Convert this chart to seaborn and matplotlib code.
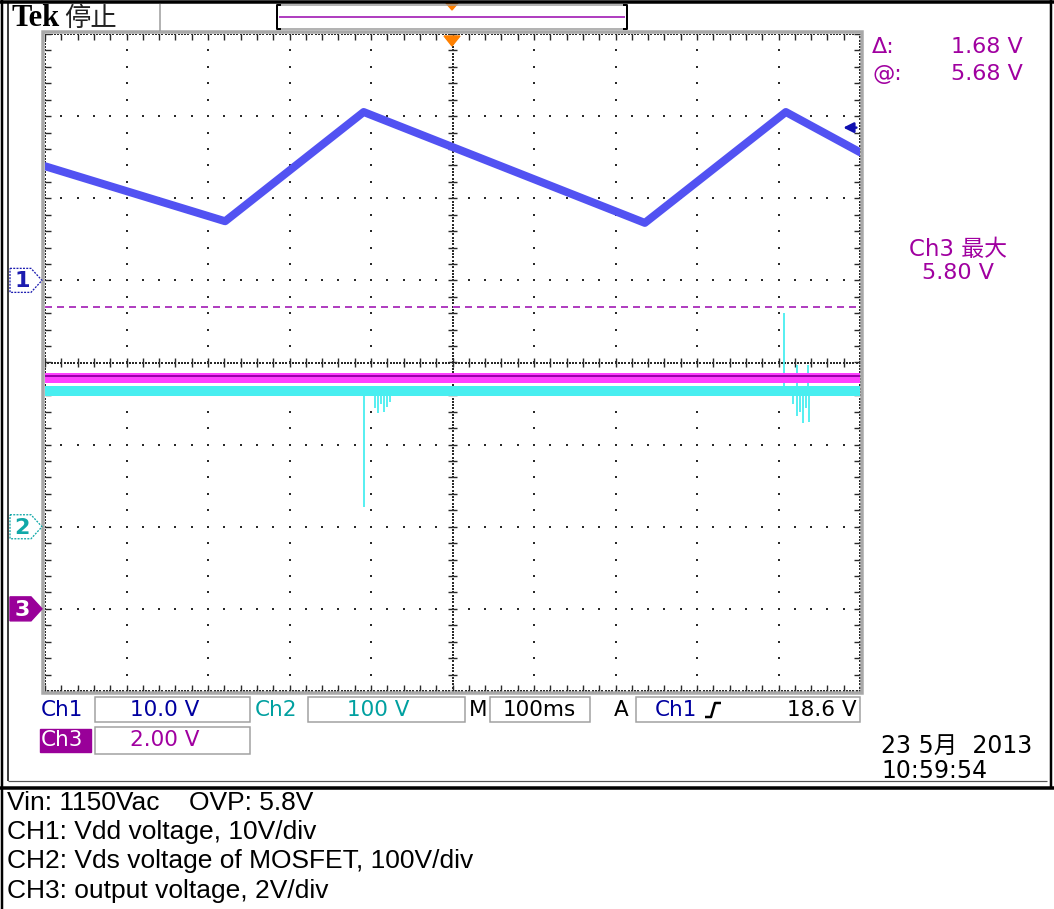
import numpy as np
import matplotlib
matplotlib.use("Agg")
import matplotlib.pyplot as plt
import seaborn as sns
from matplotlib.patches import Polygon, Rectangle

sns.set_theme(style="white")
plt.rcParams['font.family'] = ['DejaVu Sans', 'Noto Sans CJK SC']

# ---- acquisition settings ----
time_per_div_ms = 100
ch1_volts_per_div = 10.0
ch2_volts_per_div = 100.0
ch3_volts_per_div = 2.0
ch1_ground_div = 1
ch2_ground_div = -2
ch3_ground_div = -3

# ---- CH1: Vdd waveform breakpoints ----
ch1_time_ms = [-500, -279, -109, 236, 409, 500]
ch1_volts = [13.9, 7.2, 20.5, 7.0, 20.5, 15.6]

# ---- CH2: Vds baseline and switching spikes ----
ch2_time_ms = [-500, 500]
ch2_volts = [165, 165]
ch2_spike_time_ms = [-108.6, -95, -91, -88, -84, -80, -77,
                     407, 418, 423, 426, 430, 434, 437, 423, 436]
ch2_spike_volts = [24, 145, 138, 150, 140, 146, 152,
                   260, 150, 135, 140, 126, 145, 128, 197, 197]

# ---- CH3: output voltage ----
ch3_time_ms = [-500, 500]
ch3_volts = [5.62, 5.62]

# ---- measurements / readouts ----
cursor_at = 5.68
cursor_delta = 1.68
ch3_max = 5.80
trigger_level = 18.6
readout_scales = ["10.0 V", "100 V", "2.00 V"]
timebase_label = "100ms"
date_label = "23 5月  2013"
time_label = "10:59:54"
notes = ["Vin: 1150Vac    OVP: 5.8V",
         "CH1: Vdd voltage, 10V/div",
         "CH2: Vds voltage of MOSFET, 100V/div",
         "CH3: output voltage, 2V/div"]

C_CH1 = "#5252F2"
C_CH1_TXT = "#0000A0"
C_CH2 = "#48EEF0"
C_CH2_TXT = "#00A0A0"
C_CH3 = "#FF40FF"
C_CH3_TXT = "#A000A0"
C_ORANGE = "#FF8000"

W, H = 1054, 909
fig = plt.figure(figsize=(W / 100, H / 100), dpi=100)
fig.patch.set_facecolor("white")

PX = 0.72  # points per pixel at 100 dpi


def px_axes(zorder):
    a = fig.add_axes([0, 0, 1, 1], zorder=zorder)
    a.set_xlim(0, W)
    a.set_ylim(H, 0)
    a.axis("off")
    a.patch.set_alpha(0)
    return a


bg = px_axes(0)

# screen area in pixels
L, R, T, B = 45, 860, 34, 691
rect = [L / W, (H - B) / H, (R - L) / W, (B - T) / H]

scope = fig.add_axes(rect, zorder=1)
scope.set_xlim(-5, 5)
scope.set_ylim(-4, 4)
scope.axis("off")
scope.patch.set_alpha(0)

# ---- graticule ----
dot = dict(ls="none", marker="s", ms=1.5, mew=0, color="#2a2a2a")
fine_y = np.arange(-4, 4.001, 0.2)
fine_x = np.arange(-5, 5.001, 0.2)
for xv in [-4, -3, -2, -1, 1, 2, 3, 4]:
    scope.plot(np.full_like(fine_y, xv), fine_y, **dot)
for yv in [-3, -2, -1, 1, 2, 3]:
    scope.plot(fine_x, np.full_like(fine_x, yv), **dot)
dense_y = np.arange(-4, 4.001, 0.04)
dense_x = np.arange(-5, 5.001, 0.04)
for xv in [-5, 0, 5]:
    scope.plot(np.full_like(dense_y, xv), dense_y, **dot)
for yv in [-4, 0, 4]:
    scope.plot(dense_x, np.full_like(dense_x, yv), **dot)
tick_kw = dict(color="#2a2a2a", lw=1.4 * PX)
scope.hlines(fine_y, -0.05, 0.05, **tick_kw)
scope.vlines(fine_x, -0.05, 0.05, **tick_kw)
scope.hlines(fine_y, -5, -4.93, **tick_kw)
scope.hlines(fine_y, 4.93, 5, **tick_kw)
scope.vlines(fine_x, 3.93, 4, **tick_kw)
scope.vlines(fine_x, -4, -3.93, **tick_kw)


def channel_axes(vpd, gnd, z):
    a = fig.add_axes(rect, zorder=z)
    a.set_xlim(-5 * time_per_div_ms, 5 * time_per_div_ms)
    a.set_ylim((-4 - gnd) * vpd, (4 - gnd) * vpd)
    a.axis("off")
    a.patch.set_alpha(0)
    return a


ax2 = channel_axes(ch2_volts_per_div, ch2_ground_div, 2)
ax3 = channel_axes(ch3_volts_per_div, ch3_ground_div, 3)
ax1 = channel_axes(ch1_volts_per_div, ch1_ground_div, 4)

# CH2 trace
sns.lineplot(x=ch2_time_ms, y=ch2_volts, ax=ax2, color=C_CH2, lw=10 * PX,
             estimator=None, legend=False)
ax2.vlines(ch2_spike_time_ms, ch2_volts[0], ch2_spike_volts, color=C_CH2,
           lw=1.8 * PX)

# CH3 trace and cursors
sns.lineplot(x=ch3_time_ms, y=ch3_volts, ax=ax3, color=C_CH3, lw=10 * PX,
             estimator=None, legend=False)
ax3.axhline(cursor_at, color="#9A00A8", lw=2 * PX)
ax3.axhline(cursor_at + cursor_delta, color="#B040C0", lw=2 * PX,
            ls=(0, (3.5, 2.5)))

# CH1 trace
sns.lineplot(x=ch1_time_ms, y=ch1_volts, ax=ax1, color=C_CH1, lw=8 * PX,
             estimator=None, legend=False)
ax1.annotate("", xy=(0.976, trigger_level), xycoords=("axes fraction", "data"),
             xytext=(0.999, trigger_level), textcoords=("axes fraction", "data"),
             arrowprops=dict(arrowstyle="-|>", color="#1010B0", lw=2.5 * PX,
                             mutation_scale=15), annotation_clip=False)

fg = px_axes(10)

# ---- frame lines ----
def seg(a, xs, ys, c="black", lw=1.0, **kw):
    a.plot(xs, ys, color=c, lw=lw * PX, solid_capstyle="butt", **kw)


seg(fg, [2, 2], [0, H], lw=2.5)
seg(fg, [8, 8], [2, 781], lw=1.5)
seg(fg, [8, 1047], [781, 781], lw=1.2, c="#555555")
seg(fg, [0, W], [2, 2], lw=3.5)
seg(fg, [1051, 1051], [0, 788], lw=2.5)
seg(fg, [0, W], [787.5, 787.5], lw=3.5)

# screen border
fg.add_patch(Rectangle((L - 2, T - 2), R - L + 4, B - T + 4, fill=False,
                       ec="#A8A8A8", lw=3.5 * PX))

# top bar
seg(fg, [160, 160], [4, T - 3], c="#9a9a9a", lw=1.5)
seg(fg, [277, 627], [5, 5], c="#9a9a9a", lw=1.5)
seg(fg, [277, 627], [29, 29], c="#9a9a9a", lw=1.5)
seg(fg, [281, 277, 277, 281], [5, 5, 29, 29], lw=2)
seg(fg, [623, 627, 627, 623], [5, 5, 29, 29], lw=2)
seg(fg, [279, 625], [17, 17], c="#B040C0", lw=2)
fg.add_patch(Polygon([[446, 3], [458, 3], [452, 10]], color=C_ORANGE))
fg.add_patch(Polygon([[444, 36], [460, 36], [452, 46]], color=C_ORANGE))

fg.text(11, 18, "Tek", family="Liberation Serif", weight="bold", fontsize=22,
        va="center", ha="left", color="black")
fg.text(64, 18, "停止", family=["Noto Sans CJK SC"], fontsize=19,
        va="center", ha="left", color="#222222")

# ---- channel ground markers ----
def gnd_marker(y, label, color, filled):
    pts = [[10, y - 12], [31, y - 12], [42, y], [31, y + 12], [10, y + 12]]
    if filled:
        fg.add_patch(Polygon(pts, closed=True, fc=color, ec=color, lw=1))
        tc = "white"
    else:
        fg.add_patch(Polygon(pts, closed=True, fc="white", ec=color,
                             lw=1.3 * PX, ls=(0, (1.5, 1.0))))
        tc = color
    fg.text(22, y + 1, label, fontsize=16, weight="bold", color=tc,
            ha="center", va="center")


def ground_px(gnd):
    return (T + B) / 2 - gnd * (B - T) / 8


gnd_marker(ground_px(ch1_ground_div), "1", "#1c1cb0", False)
gnd_marker(ground_px(ch2_ground_div), "2", "#10A8A8", False)
gnd_marker(ground_px(ch3_ground_div), "3", "#990099", True)

# ---- readouts ----
fs = 15.5
fw = "normal"
def box(x0, y0, x1, y1):
    fg.add_patch(Rectangle((x0, y0), x1 - x0, y1 - y0, fill=False,
                           ec="#a0a0a0", lw=1.5 * PX))


box(95, 697, 250, 722)
box(308, 697, 465, 722)
box(490, 697, 590, 722)
box(636, 697, 860, 722)
box(95, 727, 250, 754)
fg.add_patch(Rectangle((40, 729), 51, 23, color="#990099"))

fg.text(41, 710, "Ch1", fontsize=fs, weight=fw, color=C_CH1_TXT, va="center")
fg.text(165, 710, readout_scales[0], fontsize=fs, weight=fw, color=C_CH1_TXT,
        va="center", ha="center")
fg.text(255, 710, "Ch2", fontsize=fs, weight=fw, color=C_CH2_TXT, va="center")
fg.text(378, 710, readout_scales[1], fontsize=fs, weight=fw, color=C_CH2_TXT,
        va="center", ha="center")
fg.text(469, 710, "M", fontsize=fs, weight=fw, color="black", va="center")
fg.text(539, 710, timebase_label, fontsize=fs, weight=fw, color="black",
        va="center", ha="center")
fg.text(614, 710, "A", fontsize=fs, weight=fw, color="black", va="center")
fg.text(655, 710, "Ch1", fontsize=fs, weight=fw, color=C_CH1_TXT, va="center")
seg(fg, [705, 711, 715, 721], [717, 717, 703, 703], lw=2.5)
fg.text(857, 710, f"{trigger_level:.1f} V", fontsize=fs, weight=fw,
        color="black", va="center", ha="right")
fg.text(41, 740, "Ch3", fontsize=fs, weight=fw, color="white", va="center")
fg.text(165, 740, readout_scales[2], fontsize=fs, weight=fw, color=C_CH3_TXT,
        va="center", ha="center")

# measurement panel
fg.text(872, 47, "Δ:", fontsize=fs + 0.5, weight=fw, color=C_CH3_TXT,
        va="center")
fg.text(1023, 47, f"{cursor_delta:.2f} V", fontsize=fs + 0.5, weight=fw,
        color=C_CH3_TXT, va="center", ha="right")
fg.text(872, 74, "@:", fontsize=fs + 0.5, weight=fw, color=C_CH3_TXT,
        va="center")
fg.text(1023, 74, f"{cursor_at:.2f} V", fontsize=fs + 0.5, weight=fw,
        color=C_CH3_TXT, va="center", ha="right")
fg.text(958, 250, "Ch3 最大", fontsize=fs + 1, weight=fw, color=C_CH3_TXT,
        va="center", ha="center")
fg.text(958, 273, f"{ch3_max:.2f} V", fontsize=fs + 0.5, weight=fw,
        color=C_CH3_TXT, va="center", ha="center")

fg.text(881, 746, date_label, fontsize=17, weight=fw, color="black",
        va="center")
fg.text(881, 771, time_label, fontsize=17, weight=fw, color="black",
        va="center")

# ---- notes below the screen ----
for i, line in enumerate(notes):
    fg.text(7, 803 + i * 29.2, line, family="Liberation Sans", fontsize=19,
            color="black", va="center", ha="left")

fig.savefig("out.png", dpi=100, facecolor="white")
